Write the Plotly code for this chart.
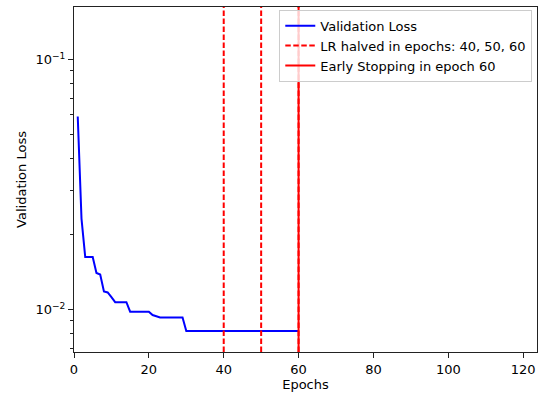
import plotly.graph_objects as go

# ---- data ----
epochs = list(range(1, 61))
val_loss = [0.0592, 0.0231, 0.0162, 0.0162, 0.0162, 0.0140, 0.0138, 0.0118, 0.0117, 0.0112,
            0.0107, 0.0107, 0.0107, 0.0107, 0.0098, 0.0098, 0.0098, 0.0098, 0.0098, 0.0098,
            0.0095, 0.0094, 0.0093, 0.0093, 0.0093, 0.0093, 0.0093, 0.0093, 0.0093, 0.0082,
            0.0082, 0.0082, 0.0082, 0.0082, 0.0082, 0.0082, 0.0082, 0.0082, 0.0082, 0.0082,
            0.0082, 0.0082, 0.0082, 0.0082, 0.0082, 0.0082, 0.0082, 0.0082, 0.0082, 0.0082,
            0.0082, 0.0082, 0.0082, 0.0082, 0.0082, 0.0082, 0.0082, 0.0082, 0.0082, 0.0082]
lr_halved_epochs = [40, 50, 60]
early_stop_epoch = 60
x_ticks = [0, 20, 40, 60, 80, 100, 120]
y_major = [0.01, 0.1]
y_major_text = ["10<sup>−2</sup>", "10<sup>−1</sup>"]
y_minor = [0.007, 0.008, 0.009, 0.02, 0.03, 0.04, 0.05, 0.06, 0.07, 0.08, 0.09]

FONT = "DejaVu Sans"
FS = 13

fig = go.Figure()
fig.add_trace(go.Scatter(x=epochs, y=val_loss, mode="lines", name="Validation Loss",
                         line=dict(color="#0000ff", width=2)))

# vertical lines spanning full axis height via hidden overlay axis [0,1]
vx, vy = [], []
for e in lr_halved_epochs:
    vx += [e, e, None]
    vy += [0, 1, None]
fig.add_trace(go.Scatter(x=vx, y=vy, yaxis="y2", mode="lines",
                         name="LR halved in epochs: " + ", ".join(str(e) for e in lr_halved_epochs),
                         line=dict(color="#ff0000", width=2, dash="5.5px,2.5px")))
fig.add_trace(go.Scatter(x=[early_stop_epoch, early_stop_epoch], y=[0, 1], yaxis="y2", mode="lines",
                         name=f"Early Stopping in epoch {early_stop_epoch}",
                         line=dict(color="#ff0000", width=2)))

axis_common = dict(showline=True, linecolor="#222", linewidth=1, mirror=True,
                   ticks="outside", ticklen=5, tickwidth=1, tickcolor="#222",
                   showgrid=False, zeroline=False,
                   tickfont=dict(family=FONT, size=FS, color="black"))

fig.update_layout(
    width=542, height=396,
    margin=dict(l=74, r=5, t=7, b=44),
    paper_bgcolor="white", plot_bgcolor="white",
    font=dict(family=FONT, size=FS, color="black"),
    xaxis=dict(range=[0, 123.7], tickmode="array", tickvals=x_ticks,
               title=dict(text="Epochs", font=dict(family=FONT, size=FS), standoff=4),
               **axis_common),
    yaxis=dict(type="log", range=[-2.170, -0.790], tickmode="array",
               tickvals=y_major, ticktext=y_major_text,
               minor=dict(tickmode="array", tickvals=y_minor, ticks="outside", ticklen=3,
                          tickwidth=1, tickcolor="#222", showgrid=False),
               title=dict(text="Validation Loss", font=dict(family=FONT, size=FS), standoff=5),
               **axis_common),
    yaxis2=dict(overlaying="y", range=[0, 1], visible=False, fixedrange=True),
    legend=dict(x=0.9898, xanchor="right", y=0.992, yanchor="top",
                bgcolor="rgba(255,255,255,0.8)", bordercolor="#cccccc", borderwidth=1,
                font=dict(family=FONT, size=FS), itemwidth=30, tracegroupgap=0),
    showlegend=True,
)

fig.write_html("out.html", config={"displayModeBar": False},
               post_script="document.body.style.margin='0';")
